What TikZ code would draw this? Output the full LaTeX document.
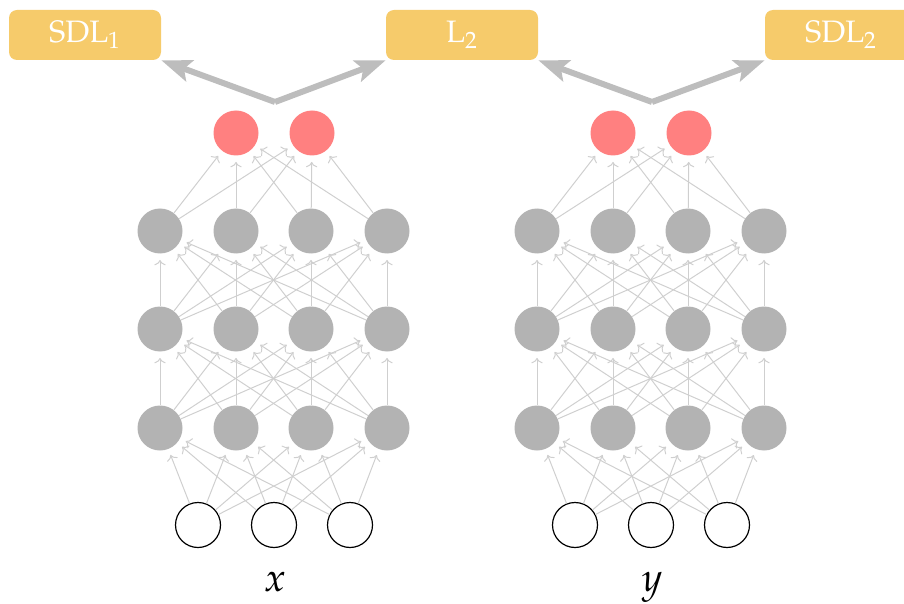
\documentclass[tikz,border=0pt]{standalone}
\usepackage[T1]{fontenc}
\usepackage{mathpazo}
\usetikzlibrary{arrows.meta}
\definecolor{gold}{HTML}{F6CB6B}
\definecolor{rose}{HTML}{FF8080}
\definecolor{unit}{HTML}{B3B3B3}
\definecolor{wire}{HTML}{CFCFCF}
\definecolor{shade}{HTML}{BDBDBD}

\begin{document}
\begin{tikzpicture}[x=0.5pt,y=-0.5pt, every node/.style={font=\fontsize{15.5}{18}\selectfont}, loss/.style={fill=gold,rounded corners=4pt,minimum width=76pt,minimum height=25pt,inner sep=0pt,text=white}, inp/.style={circle,draw=black,line width=0.6pt,fill=white,minimum size=22.5pt,inner sep=0pt}, hid/.style={circle,fill=unit,minimum size=22.5pt,inner sep=0pt}, outp/.style={circle,fill=rose,minimum size=22.5pt,inner sep=0pt}, edge/.style={->,draw=wire,line width=0.5pt,shorten >=3pt}, big/.style={-{Stealth[length=15pt,width=11pt,inset=3pt]},draw=shade,line width=3pt}, lab/.style={font=\fontsize{20}{24}\selectfont,anchor=base}]
\useasboundingbox (0,0) rectangle (904,604);
% loss boxes
\node[loss] (sdl1) at (85,35) {SDL$_1$};
\node[loss] (l2) at (462,35) {L$_2$};
\node[loss] (sdl2) at (841,35) {SDL$_2$};
% the two networks
\foreach \net/\dx/\v in {a/0/x,b/377/y}{
  \foreach \i/\x in {1/198,2/274,3/350} \node[inp] (\net-in\i) at ({\x+\dx},525) {};
  \foreach \r/\y in {1/428,2/329,3/231}
    \foreach \i/\x in {1/160,2/236,3/311,4/387} \node[hid] (\net-h\r\i) at ({\x+\dx},\y) {};
  \foreach \i/\x in {1/236,2/312} \node[outp] (\net-o\i) at ({\x+\dx},133) {};
  \node[lab] (\net-lab) at ({275+\dx},591) {$\v$};
  \coordinate (\net-top) at ({275+\dx},102);
  % weights
  \foreach \i in {1,2,3} \foreach \j in {1,...,4} \draw[edge] (\net-in\i) -- (\net-h1\j);
  \foreach \r/\s in {1/2,2/3} \foreach \i in {1,...,4} \foreach \j in {1,...,4} \draw[edge] (\net-h\r\i) -- (\net-h\s\j);
  \foreach \i in {1,...,4} \foreach \j in {1,2} \draw[edge] (\net-h3\i) -- (\net-o\j);
}
\draw[big] (a-top)--(sdl1.south east);\draw[big] (a-top)--(l2.south west);\draw[big] (b-top)--(l2.south east);\draw[big] (b-top)--(sdl2.south west);
\end{tikzpicture}
\end{document}
